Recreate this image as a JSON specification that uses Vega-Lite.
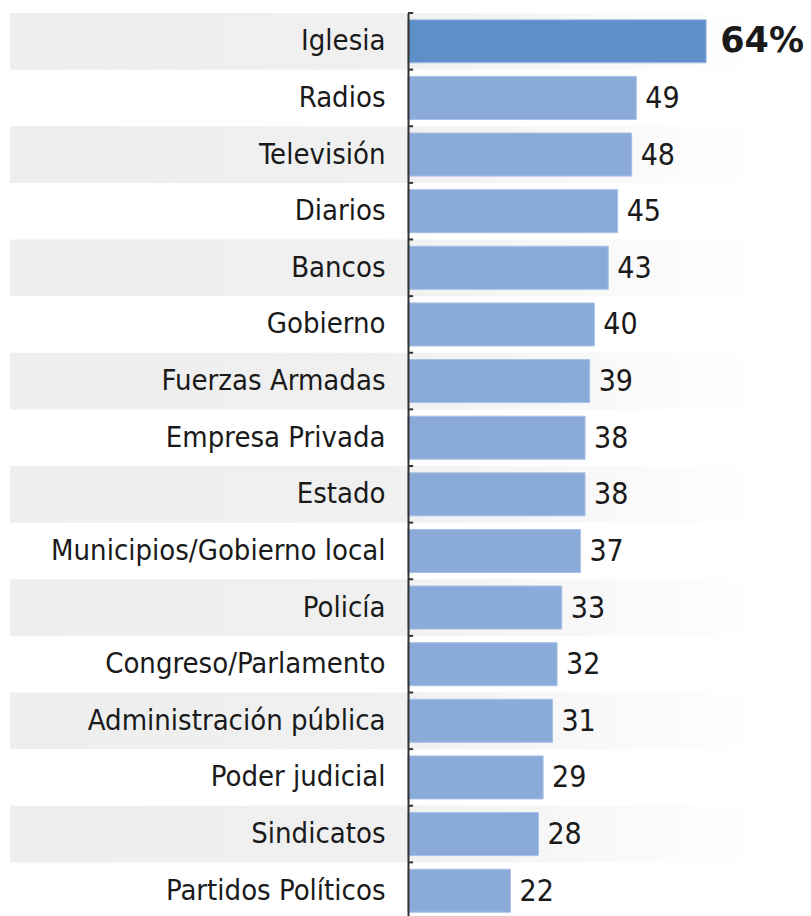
{
  "$schema": "https://vega.github.io/schema/vega-lite/v6.json",
  "autosize": "none",
  "padding": {"left": 408, "top": 13, "right": 0, "bottom": 0},
  "width": 403,
  "height": 906,
  "background": "white",
  "config": {"view": {"stroke": null}},
  "data": {"values": [
    {"cat": "Iglesia", "value": 64, "label": "64%", "shade": "yes", "top": "yes"},
    {"cat": "Radios", "value": 49, "label": "49", "shade": "no", "top": "no"},
    {"cat": "Televisión", "value": 48, "label": "48", "shade": "yes", "top": "no"},
    {"cat": "Diarios", "value": 45, "label": "45", "shade": "no", "top": "no"},
    {"cat": "Bancos", "value": 43, "label": "43", "shade": "yes", "top": "no"},
    {"cat": "Gobierno", "value": 40, "label": "40", "shade": "no", "top": "no"},
    {"cat": "Fuerzas Armadas", "value": 39, "label": "39", "shade": "yes", "top": "no"},
    {"cat": "Empresa Privada", "value": 38, "label": "38", "shade": "no", "top": "no"},
    {"cat": "Estado", "value": 38, "label": "38", "shade": "yes", "top": "no"},
    {"cat": "Municipios/Gobierno local", "value": 37, "label": "37", "shade": "no", "top": "no"},
    {"cat": "Policía", "value": 33, "label": "33", "shade": "yes", "top": "no"},
    {"cat": "Congreso/Parlamento", "value": 32, "label": "32", "shade": "no", "top": "no"},
    {"cat": "Administración pública", "value": 31, "label": "31", "shade": "yes", "top": "no"},
    {"cat": "Poder judicial", "value": 29, "label": "29", "shade": "no", "top": "no"},
    {"cat": "Sindicatos", "value": 28, "label": "28", "shade": "yes", "top": "no"},
    {"cat": "Partidos Políticos", "value": 22, "label": "22", "shade": "no", "top": "no"}
  ]},
  "encoding": {
    "y": {
      "field": "cat", "type": "nominal",
      "sort": ["Iglesia", "Radios", "Televisión", "Diarios", "Bancos", "Gobierno", "Fuerzas Armadas", "Empresa Privada", "Estado", "Municipios/Gobierno local", "Policía", "Congreso/Parlamento", "Administración pública", "Poder judicial", "Sindicatos", "Partidos Políticos"],
      "scale": {"paddingInner": 0, "paddingOuter": 0},
      "axis": {
        "title": null,
        "zindex": 1,
        "domainColor": "#333333", "domainWidth": 2,
        "ticks": false,
        "labelPadding": 23,
        "labelFont": "DejaVu Sans Condensed, DejaVu Sans, sans-serif",
        "labelFontSize": 29, "labelColor": "#1a1a1a",
        "labelLimit": 420
      }
    }
  },
  "layer": [
    {
      "transform": [{"filter": "datum.shade == 'yes'"}],
      "mark": {"type": "rect", "clip": false, "color": {"gradient": "linear", "x1": 0, "x2": 1, "y1": 0, "y2": 0, "stops": [{"offset": 0, "color": "#eeeeee"}, {"offset": 0.5, "color": "#f0f0f0"}, {"offset": 1, "color": "#ffffff"}]}},
      "encoding": {
        "x": {"datum": -85.4, "type": "quantitative", "scale": {"domain": [0, 86.5], "nice": false}, "axis": null},
        "x2": {"datum": 76}
      }
    },
    {
      "mark": {"type": "rule", "color": "#333333", "strokeWidth": 2},
      "encoding": {
        "y": {"field": "cat", "type": "nominal", "bandPosition": 0, "sort": ["Iglesia", "Radios", "Televisión", "Diarios", "Bancos", "Gobierno", "Fuerzas Armadas", "Empresa Privada", "Estado", "Municipios/Gobierno local", "Policía", "Congreso/Parlamento", "Administración pública", "Poder judicial", "Sindicatos", "Partidos Políticos"]},
        "x": {"datum": 0, "type": "quantitative"},
        "x2": {"datum": 1.1}
      }
    },
    {
      "mark": {"type": "bar", "height": {"band": 0.76}, "stroke": "#a9c0e4", "strokeWidth": 1},
      "encoding": {
        "x": {"field": "value", "type": "quantitative"},
        "color": {"field": "top", "type": "nominal", "scale": {"domain": ["yes", "no"], "range": ["#5f8fc9", "#8aabda"]}, "legend": null}
      }
    },
    {
      "transform": [{"filter": "datum.top == 'no'"}],
      "mark": {"type": "text", "align": "left", "baseline": "middle", "dx": 9, "dy": 1, "font": "DejaVu Sans Condensed, DejaVu Sans, sans-serif", "fontSize": 30, "color": "#1a1a1a"},
      "encoding": {
        "x": {"field": "value", "type": "quantitative"},
        "text": {"field": "label"}
      }
    },
    {
      "transform": [{"filter": "datum.top == 'yes'"}],
      "mark": {"type": "text", "align": "left", "baseline": "middle", "dx": 14, "dy": 0, "font": "DejaVu Sans, sans-serif", "fontWeight": "bold", "fontSize": 35, "color": "#1a1a1a"},
      "encoding": {
        "x": {"field": "value", "type": "quantitative"},
        "text": {"field": "label"}
      }
    }
  ]
}
